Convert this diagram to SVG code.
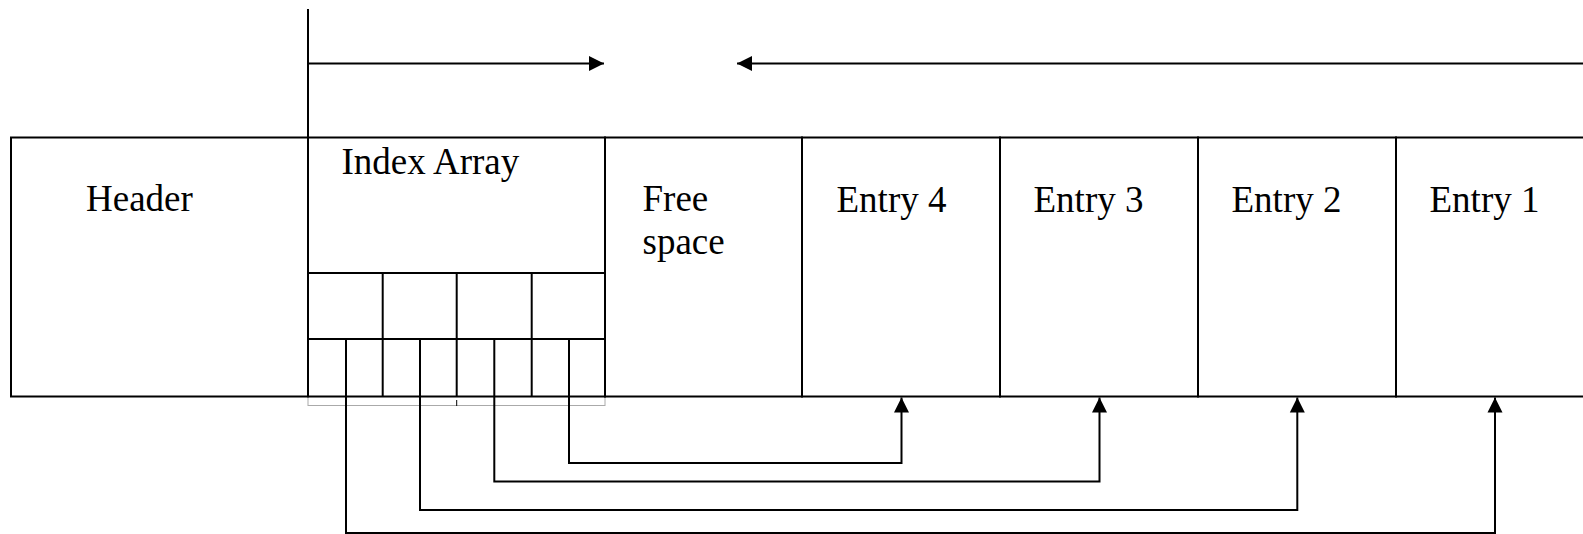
<svg xmlns="http://www.w3.org/2000/svg" width="1583" height="534" viewBox="0 0 1583 534">
<style>
.ln{stroke:#000;stroke-width:2;fill:none}
.bx{stroke:#000;stroke-width:2;fill:#fff}
.tx{font-family:"Liberation Serif","Times New Roman",serif;font-size:37px;fill:#000}
.gr{stroke:#aaa;stroke-width:1;fill:none}
</style>
<defs>
<marker id="ah" markerUnits="userSpaceOnUse" markerWidth="16" markerHeight="16" viewBox="0 0 16 16" refX="15" refY="8" orient="auto">
<path d="M0,0.5 L15,8 L0,15.5 Z" fill="#000"/>
</marker>
</defs>
<rect width="1583" height="534" fill="#fff"/>
<g id="header">
<rect class="bx" x="11" y="137.5" width="297" height="259"/>
<text class="tx" x="86" y="211">Header</text>
</g>
<g id="index-array">
<rect class="gr" x="308" y="396.5" width="297" height="9"/>
<line class="ln" x1="456.7" y1="400" x2="456.7" y2="406" style="stroke-width:1"/>
<rect class="bx" x="308" y="137.5" width="297" height="259"/>
<line class="ln" x1="308" y1="273" x2="605" y2="273"/>
<line class="ln" x1="308" y1="339" x2="605" y2="339"/>
<line class="ln" x1="382.7" y1="273" x2="382.7" y2="396.5"/>
<line class="ln" x1="456.7" y1="273" x2="456.7" y2="396.5"/>
<line class="ln" x1="531.7" y1="273" x2="531.7" y2="396.5"/>
<text class="tx" x="341.5" y="173.5">Index Array</text>
</g>
<g id="free-space">
<rect class="bx" x="605" y="137.5" width="197" height="259"/>
<text class="tx" x="642.5" y="211">Free</text>
<text class="tx" x="642.5" y="254">space</text>
</g>
<g id="entry4">
<rect class="bx" x="802" y="137.5" width="198" height="259"/>
<text class="tx" x="836.5" y="211.5">Entry 4</text>
</g>
<g id="entry3">
<rect class="bx" x="1000" y="137.5" width="198" height="259"/>
<text class="tx" x="1033.5" y="211.5">Entry 3</text>
</g>
<g id="entry2">
<rect class="bx" x="1198" y="137.5" width="198" height="259"/>
<text class="tx" x="1231.5" y="211.5">Entry 2</text>
</g>
<g id="entry1">
<rect class="bx" x="1396" y="137.5" width="200" height="259"/>
<text class="tx" x="1429.5" y="211.5">Entry 1</text>
</g>
<g id="connectors">
<line class="ln" x1="308" y1="9" x2="308" y2="137.5"/>
<line class="ln" x1="308" y1="63.5" x2="604" y2="63.5" marker-end="url(#ah)"/>
<line class="ln" x1="1583" y1="63.5" x2="737" y2="63.5" marker-end="url(#ah)"/>
<path class="ln" d="M569,339 V463 H901.5 V397.5" marker-end="url(#ah)"/>
<path class="ln" d="M494.3,339 V481.5 H1099.5 V397.5" marker-end="url(#ah)"/>
<path class="ln" d="M420,339 V510 H1297.3 V397.5" marker-end="url(#ah)"/>
<path class="ln" d="M346,339 V533 H1495 V397.5" marker-end="url(#ah)"/>
</g>
</svg>
